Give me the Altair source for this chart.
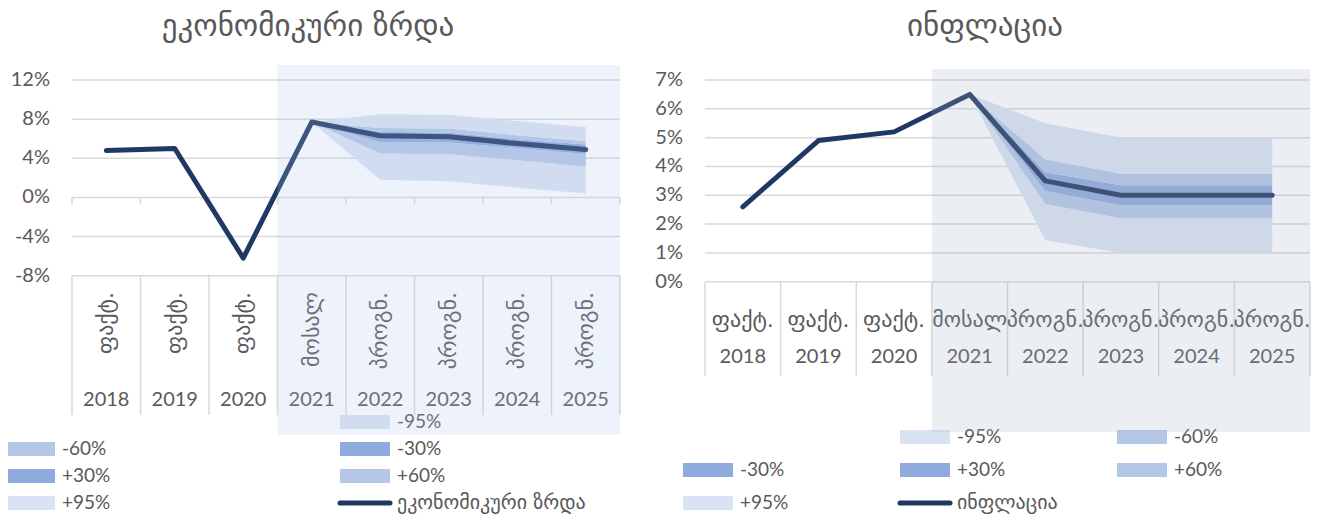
import altair as alt
import pandas as pd

# ---------------- data ----------------
years = ["2018", "2019", "2020", "2021", "2022", "2023", "2024", "2025"]
kinds = ["ფაქტ.", "ფაქტ.", "ფაქტ.", "მოსალ", "პროგნ.", "პროგნ.", "პროგნ.", "პროგნ."]

growth = [4.8, 5.0, -6.2, 7.7, 6.3, 6.2, 5.5, 4.9]
# fan (2021-2025)
g_lo95 = [7.7, 1.8, 1.65, 1.0, 0.4]
g_lo60 = [7.7, 4.5, 4.4, 3.8, 3.15]
g_lo30 = [7.7, 5.65, 5.6, 5.05, 4.45]
g_hi30 = [7.7, 6.7, 6.6, 5.95, 5.4]
g_hi60 = [7.7, 7.1, 7.05, 6.35, 5.75]
g_hi95 = [7.7, 8.5, 8.45, 7.8, 7.2]

inflation = [2.6, 4.9, 5.2, 6.5, 3.5, 3.0, 3.0, 3.0]
i_lo95 = [6.5, 1.45, 1.0, 1.0, 1.0]
i_lo60 = [6.5, 2.7, 2.2, 2.2, 2.2]
i_lo30 = [6.5, 3.15, 2.65, 2.65, 2.65]
i_hi30 = [6.5, 3.8, 3.35, 3.35, 3.35]
i_hi60 = [6.5, 4.25, 3.75, 3.75, 3.75]
i_hi95 = [6.5, 5.5, 5.0, 5.0, 5.0]

g_ticks = [-8, -4, 0, 4, 8, 12]
i_ticks = [0, 1, 2, 3, 4, 5, 6, 7]

band_names = ["-95%", "-60%", "-30%", "+30%", "+60%", "+95%"]
band_colors = ["#DAE3F3", "#B4C7E7", "#8FAADC", "#8FAADC", "#B4C7E7", "#DAE3F3"]

title_g = "ეკონომიკური ზრდა"
title_i = "ინფლაცია"

# ---------------- styling ----------------
FONT = "Lato, 'DejaVu Sans', sans-serif"
GEO = "'DejaVu Sans', sans-serif"
TXT = "#595959"
GRID = "#D9D9D9"
LINE = "#1F3864"


def P(v):
    return v - 8


def sc(dom, rng):
    return alt.Scale(domain=dom, range=rng, nice=False, zero=False)


def build_panel(cfg):
    XS = sc([0, 8], [P(cfg["x0"]), P(cfg["x1"])])
    YS = sc(cfg["ydom"], [P(cfg["ybot"]), P(cfg["ytop"])])
    L = []
    tick_df = pd.DataFrame({"v": cfg["ticks"], "lab": [f"{t}%" for t in cfg["ticks"]],
                            "a": 0, "b": 8})
    L.append(alt.Chart(tick_df).mark_rule(color=GRID, strokeWidth=1.5).encode(
        x=alt.X("a:Q", scale=XS, axis=None), x2="b:Q",
        y=alt.Y("v:Q", scale=YS, axis=None)))
    L.append(alt.Chart(tick_df).mark_text(align="right", baseline="middle", font=FONT,
                                          fontSize=20, color=TXT).encode(
        x=alt.value(P(cfg["lab_x"])), y=alt.Y("v:Q", scale=YS, axis=None), text="lab:N"))
    bnd = pd.DataFrame({"b": list(range(9)), "z": 0})
    L.append(alt.Chart(bnd).mark_rule(color=GRID, strokeWidth=1.5).encode(
        x=alt.X("b:Q", scale=XS, axis=None),
        y=alt.value(P(cfg["sep_top"])), y2=alt.value(P(cfg["sep_bot"]))))
    if cfg.get("zero_ticks"):
        L.append(alt.Chart(bnd).mark_rule(color=GRID, strokeWidth=1.5, y2Offset=7).encode(
            x=alt.X("b:Q", scale=XS, axis=None),
            y=alt.Y("z:Q", scale=YS, axis=None), y2="z:Q"))
    cat = pd.DataFrame({"pos": [i + 0.5 for i in range(8)], "year": years, "kind": kinds})
    if cfg["rotate"]:
        L.append(alt.Chart(cat).mark_text(angle=270, align="right", baseline="middle",
                                          font=GEO, fontSize=cfg["kind_size"], color=TXT).encode(
            x=alt.X("pos:Q", scale=XS, axis=None), y=alt.value(P(cfg["kind_y"])),
            text="kind:N"))
    else:
        L.append(alt.Chart(cat).mark_text(align="center", baseline="middle",
                                          font=GEO, fontSize=cfg["kind_size"], color=TXT).encode(
            x=alt.X("pos:Q", scale=XS, axis=None), y=alt.value(P(cfg["kind_y"])),
            text="kind:N"))
    L.append(alt.Chart(cat).mark_text(align="center", baseline="middle",
                                      font=FONT, fontSize=20, color=TXT).encode(
        x=alt.X("pos:Q", scale=XS, axis=None), y=alt.value(P(cfg["year_y"])),
        text="year:N"))
    # fan bands
    vals = cfg["vals"]
    q = cfg["q"]  # lo95, lo60, lo30, hi30, hi60, hi95
    mid = vals[3:]
    edges = [q[0], q[1], q[2], mid, q[3], q[4], q[5]]
    fpos = [i + 0.5 for i in range(3, 8)]
    for k in range(6):
        bdf = pd.DataFrame({"pos": fpos, "lo": edges[k], "hi": edges[k + 1]})
        L.append(alt.Chart(bdf).mark_area(color=band_colors[k], opacity=1).encode(
            x=alt.X("pos:Q", scale=XS, axis=None),
            y=alt.Y("lo:Q", scale=YS, axis=None), y2="hi:Q"))
    ldf = pd.DataFrame({"pos": [i + 0.5 for i in range(8)], "v": vals})
    L.append(alt.Chart(ldf).mark_line(color=LINE, strokeWidth=5, strokeCap="round",
                                      strokeJoin="round").encode(
        x=alt.X("pos:Q", scale=XS, axis=None), y=alt.Y("v:Q", scale=YS, axis=None)))
    # legend (Excel flow with an empty first slot)
    nc = cfg["leg_cols"]
    items = [None] + list(zip(band_names, band_colors)) + [(cfg["line_name"], LINE)]
    rows_b, row_l = [], []
    for s, it in enumerate(items):
        if it is None:
            continue
        rec = {"col": s % nc, "row": s // nc, "label": it[0], "color": it[1]}
        if it[0] == cfg["line_name"]:
            row_l.append(rec)
        else:
            rows_b.append(rec)
    nrows = (len(items) + nc - 1) // nc
    CX = sc([0, nc - 1], [P(cfg["leg_x0"]), P(cfg["leg_x1"])])
    RY = sc([0, nrows - 1], [P(cfg["leg_y0"]), P(cfg["leg_y1"])])
    lb = pd.DataFrame(rows_b)
    ll = pd.DataFrame(row_l)
    L.append(alt.Chart(lb).mark_rect(x2Offset=50, yOffset=-7, y2Offset=7).encode(
        x=alt.X("col:Q", scale=CX, axis=None), x2="col:Q",
        y=alt.Y("row:Q", scale=RY, axis=None), y2="row:Q",
        color=alt.Color("color:N", scale=None)))
    L.append(alt.Chart(ll).mark_rule(x2Offset=50, strokeWidth=5, strokeCap="round",
                                     color=LINE).encode(
        x=alt.X("col:Q", scale=CX, axis=None), x2="col:Q",
        y=alt.Y("row:Q", scale=RY, axis=None)))
    L.append(alt.Chart(lb).mark_text(align="left", baseline="middle", xOffset=57,
                                     font=FONT, fontSize=19, color=TXT).encode(
        x=alt.X("col:Q", scale=CX, axis=None), y=alt.Y("row:Q", scale=RY, axis=None),
        text="label:N"))
    L.append(alt.Chart(ll).mark_text(align="left", baseline="middle", xOffset=57,
                                     font=GEO, fontSize=20, color=TXT).encode(
        x=alt.X("col:Q", scale=CX, axis=None), y=alt.Y("row:Q", scale=RY, axis=None),
        text="label:N"))
    # forecast overlay
    odf = pd.DataFrame({"a": [3], "b": [8]})
    L.append(alt.Chart(odf).mark_rect(color=cfg["ov_color"], opacity=cfg["ov_op"]).encode(
        x=alt.X("a:Q", scale=XS, axis=None), x2="b:Q",
        y=alt.value(P(cfg["ov_top"])), y2=alt.value(P(cfg["ov_bot"]))))
    # title
    tdf = pd.DataFrame({"t": [cfg["title"]]})
    L.append(alt.Chart(tdf).mark_text(align="center", baseline="middle", font=GEO,
                                      fontSize=cfg["title_size"], color=TXT).encode(
        x=alt.value(P(cfg["title_x"])), y=alt.value(P(27)), text="t:N"))
    return L


left = build_panel(dict(
    x0=72, x1=620, ydom=[-8, 12], ybot=275.7, ytop=80, ticks=g_ticks, lab_x=50,
    sep_top=276, sep_bot=415, zero_ticks=True, rotate=True, kind_y=292, kind_size=22,
    year_y=400,
    vals=growth, q=[g_lo95, g_lo60, g_lo30, g_hi30, g_hi60, g_hi95],
    leg_cols=2, line_name=title_g, leg_x0=5, leg_x1=340, leg_y0=422, leg_y1=503,
    ov_color="#AEC1E7", ov_op=0.21, ov_top=65, ov_bot=435,
    title=title_g, title_x=308, title_size=31))

right = build_panel(dict(
    x0=705, x1=1310, ydom=[0, 7], ybot=281.7, ytop=80, ticks=i_ticks, lab_x=683,
    sep_top=282, sep_bot=376, zero_ticks=False, rotate=False, kind_y=320, kind_size=22,
    year_y=357,
    vals=inflation, q=[i_lo95, i_lo60, i_lo30, i_hi30, i_hi60, i_hi95],
    leg_cols=3, line_name=title_i, leg_x0=683, leg_x1=1117, leg_y0=437, leg_y1=503,
    ov_color="#A5B3C5", ov_op=0.22, ov_top=69, ov_bot=432,
    title=title_i, title_x=985, title_size=31))

chart = alt.layer(*(left + right)).resolve_scale(
    x="independent", y="independent"
).properties(
    width=1306, height=506, autosize="none", padding=0
).configure_view(stroke=None)

chart.save("out.html", embed_options={"renderer": "svg", "actions": False})
